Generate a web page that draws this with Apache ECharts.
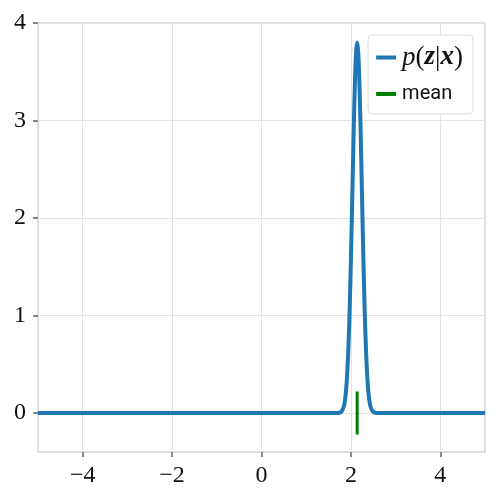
<!DOCTYPE html>
<html lang="en">
<head>
    <meta charset="UTF-8">
    <title>Posterior p(z|x)</title>
    <script src="https://cdn.jsdelivr.net/npm/echarts@6/dist/echarts.min.js"></script>
    <style>
        html, body { margin: 0; padding: 0; background: #fff; }
        #chart { width: 500px; height: 500px; }
    </style>
</head>
<body>
<div id="chart"></div>
<script>
    // density curve
    var zValues = [-5, 1.64, 1.74, 1.79, 1.84, 1.865, 1.89, 1.915, 1.94, 1.965, 1.99, 2.015, 2.04, 2.065, 2.09, 2.115,
        2.14, 2.165, 2.19, 2.215, 2.24, 2.265, 2.29, 2.315, 2.34, 2.365, 2.39, 2.415, 2.44, 2.49, 2.54, 2.64, 5];
    var density = [0, 0, 0.003, 0.015, 0.064, 0.123, 0.223, 0.383, 0.619, 0.948, 1.370, 1.871, 2.414, 2.944, 3.393, 3.694,
        3.80, 3.694, 3.393, 2.944, 2.414, 1.871, 1.370, 0.948, 0.619, 0.383, 0.223, 0.123, 0.064, 0.015, 0.003, 0, 0];

    // vertical mark at the mean
    var meanX = [2.14, 2.14];
    var meanY = [-0.22, 0.22];

    var xTicks = [-4, -2, 0, 2, 4];
    var yTicks = [0, 1, 2, 3, 4];

    var chart = echarts.init(document.getElementById('chart'));

    var serif = 'Liberation Serif';
    var tickGray = '#888';
    var gridGray = '#e3e3e3';

    function minus(v) {
        return String(v).replace('-', '\u2212');
    }

    var option = {
        animation: false,
        grid: {
            left: 38, right: 15, top: 23, bottom: 48,
            show: true,
            borderColor: '#bdbdbd',
            borderWidth: 1
        },
        legend: {
            orient: 'vertical',
            right: 27,
            top: 35,
            data: ['p', 'mean'],
            icon: 'rect',
            itemWidth: 20,
            itemHeight: 4,
            itemGap: 13,
            padding: [9, 10, 10, 8],
            backgroundColor: '#fff',
            borderColor: '#dcdcdc',
            borderWidth: 1,
            borderRadius: 4,
            formatter: function (name) {
                if (name === 'p') {
                    return '{i|p}{n|(}{b|z}{n||}{b|x}{n|)}';
                }
                return '{s|mean}';
            },
            textStyle: {
                padding: [0, 0, 0, 1],
                rich: {
                    i: { fontFamily: serif, fontStyle: 'italic', fontSize: 27, color: '#111' },
                    b: { fontFamily: serif, fontStyle: 'italic', fontWeight: 'bold', fontSize: 27, color: '#111' },
                    n: { fontFamily: serif, fontSize: 27, color: '#111' },
                    s: { fontFamily: 'Roboto', fontSize: 20, color: '#111' }
                }
            }
        },
        xAxis: {
            type: 'value',
            min: -5,
            max: 5,
            interval: 1,
            axisLine: { show: false, onZero: false },
            axisTick: {
                show: true,
                customValues: xTicks,
                length: 5,
                lineStyle: { color: tickGray, width: 2 }
            },
            axisLabel: {
                customValues: xTicks,
                margin: 12,
                fontFamily: serif,
                fontSize: 24,
                color: '#111',
                formatter: minus
            },
            splitLine: {
                show: true,
                lineStyle: { color: gridGray, width: 1 }
            }
        },
        yAxis: {
            type: 'value',
            min: -0.4,
            max: 4,
            interval: 1,
            axisLine: { show: false, onZero: false },
            axisTick: {
                show: true,
                customValues: yTicks,
                length: 5,
                lineStyle: { color: tickGray, width: 2 }
            },
            axisLabel: {
                customValues: yTicks,
                margin: 12,
                fontFamily: serif,
                fontSize: 24,
                color: '#111',
                formatter: minus
            },
            splitLine: {
                show: true,
                lineStyle: { color: gridGray, width: 1 }
            }
        },
        series: [
            {
                name: 'p',
                type: 'line',
                data: zValues.map(function (z, i) { return [z, density[i]]; }),
                showSymbol: false,
                smooth: 0.2,
                color: '#1f77b4',
                lineStyle: { width: 4, color: '#1f77b4' },
                z: 3
            },
            {
                name: 'mean',
                type: 'line',
                data: meanX.map(function (z, i) { return [z, meanY[i]]; }),
                showSymbol: false,
                color: '#008000',
                lineStyle: { width: 3, color: '#008000' },
                z: 4
            }
        ]
    };

    chart.setOption(option);
</script>
</body>
</html>
